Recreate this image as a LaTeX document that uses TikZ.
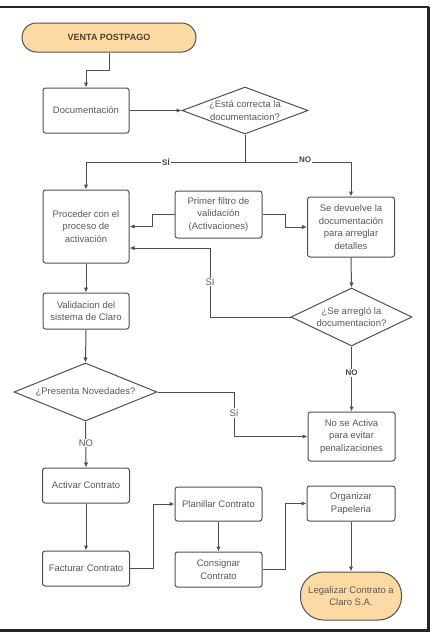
\documentclass[tikz,border=0pt]{standalone}
\usepackage{fontspec}
\setmainfont{Liberation Sans}
\usetikzlibrary{shapes.geometric,arrows.meta}
\definecolor{fillor}{RGB}{253,218,164}
\definecolor{edgec}{RGB}{80,80,80}
\definecolor{txtc}{RGB}{90,90,90}
\definecolor{startc}{RGB}{75,65,55}
\begin{document}
\begin{tikzpicture}[x=1pt,y=-1pt,
  every node/.style={font=\fontsize{9.5}{12.5}\selectfont, text=txtc, align=center},
  boxn/.style={draw=edgec, line width=1pt, rounded corners=2.5pt, fill=white, inner sep=1pt},
  termn/.style={draw=edgec, line width=1pt, fill=fillor, inner sep=1pt},
  dia/.style={diamond, draw=edgec, line width=1pt, fill=white, inner sep=0pt},
  arr/.style={draw=edgec, line width=1pt, -{Latex[length=5pt,width=4.5pt]}},
  lab/.style={fill=white, inner sep=1pt},
  blab/.style={fill=white, inner sep=1pt, font=\fontsize{8}{9}\selectfont\bfseries, text=startc}]
\useasboundingbox (0,0) rectangle (434,633);
% frame
\draw[line width=1.5pt, black!85] (0,7) -- (429,7);
\draw[line width=2.5pt, black!85] (428.5,6.5) -- (428.5,630.5) -- (0,630.5);

% nodes
\node[termn, minimum width=174pt, minimum height=29pt, rounded corners=14.5pt,
      font=\fontsize{9}{11}\selectfont\bfseries, text=startc] (start) at (109,37.5) {VENTA POSTPAGO};
\node[boxn, minimum width=86pt, minimum height=45pt] (doc) at (86,110.5) {Documentación};
\node[dia, minimum width=126pt, minimum height=47pt,
      label={[text=txtc]center:¿Está correcta la\\documentacion?}] (d1) at (245,110.5) {};
\node[boxn, minimum width=86pt, minimum height=73pt] (proc) at (86,226.5) {Proceder con el\\proceso de\\activación};
\node[boxn, minimum width=87pt, minimum height=47pt] (filt) at (218.5,214.5) {Primer filtro de\\validación\\(Activaciones)};
\node[boxn, minimum width=87pt, minimum height=60pt] (dev) at (351,227) {Se devuelve la\\documentación\\para arreglar\\detalles};
\node[dia, minimum width=121pt, minimum height=58pt,
      label={[text=txtc]center:¿Se arregló la\\documentacion?}] (d2) at (351.5,317) {};
\node[boxn, minimum width=86pt, minimum height=36pt] (val) at (86,311) {Validacion del\\sistema de Claro};
\node[dia, minimum width=143pt, minimum height=58pt,
      label={[text=txtc]center:¿Presenta Novedades?}] (d3) at (85.5,392) {};
\node[boxn, minimum width=87pt, minimum height=49pt] (noact) at (351.5,436.5) {No se Activa\\para evitar\\penalizaciones};
\node[boxn, minimum width=87pt, minimum height=35pt] (act) at (86,485.5) {Activar Contrato};
\node[boxn, minimum width=87pt, minimum height=35pt] (fact) at (86,568.5) {Facturar Contrato};
\node[boxn, minimum width=87pt, minimum height=34pt] (plan) at (218.5,504) {Planillar Contrato};
\node[boxn, minimum width=87pt, minimum height=35pt] (cons) at (218.5,569.5) {Consignar\\Contrato};
\node[boxn, minimum width=88pt, minimum height=35pt] (org) at (351,503.5) {Organizar\\Papeleria};
\node[termn, minimum width=101pt, minimum height=48pt, rounded corners=23pt] (legal) at (351,596) {Legalizar Contrato a\\Claro S.A.};

% connectors
\coordinate (j0) at (109,70);
\coordinate (j1) at (245,162);
\draw[arr] (start.south) -- (j0) -| (doc.north);
\draw[arr] (doc.east) -- (d1.west);
\draw[arr] (d1.south) -- (j1) -| (proc.north);
\draw[arr] (j1) -| (dev.north);
\node[blab] at (166,162) {SÍ};
\node[blab] at (305,160) {NO};
\draw[arr] (filt.west) -- ++(-22,0) |- (proc.east);
\draw[arr] (filt.east) -- ++(23,0) |- (dev.west);
\draw[arr] (dev.south) -- (d2.north);
\coordinate (j2) at (210,248);
\draw[arr] (d2.west) -| (j2) -- (proc.east |- j2);
\node[lab] at (210,282) {SI};
\draw[arr] (d2.south) -- (noact.north);
\node[blab] at (351.5,373) {NO};
\draw[arr] (proc.south) -- (val.north);
\draw[arr] (val.south) -- (d3.north);
\coordinate (j3) at (234,392);
\draw[arr] (d3.east) -- (j3) |- (noact.west);
\node[lab] at (234,413) {Sí};
\draw[arr] (d3.south) -- (act.north);
\node[lab] at (86,443) {NO};
\draw[arr] (act.south) -- (fact.north);
\draw[arr] (fact.east) -- ++(23,0) |- (plan.west);
\draw[arr] (plan.south) -- (cons.north);
\draw[arr] (cons.east) -- ++(23,0) |- (org.west);
\draw[arr] (org.south) -- (legal.north);
\end{tikzpicture}
\end{document}
